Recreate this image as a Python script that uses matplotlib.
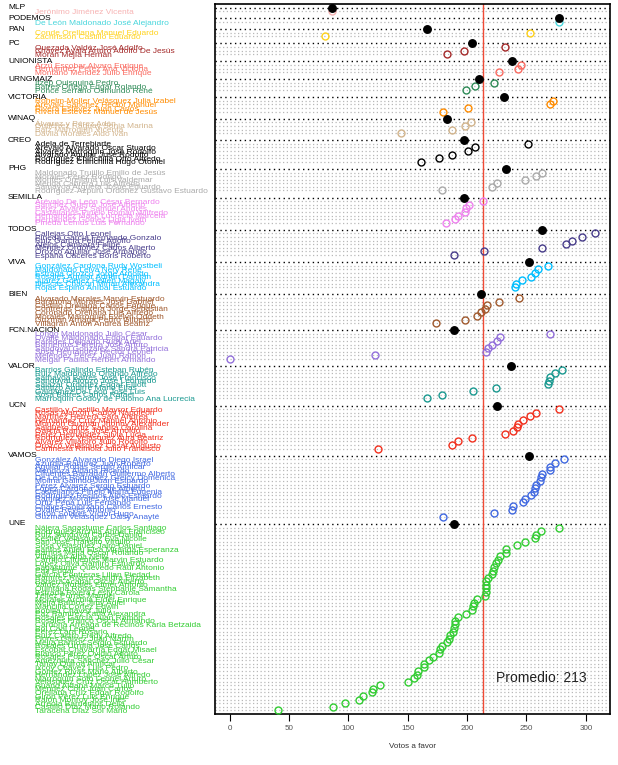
import matplotlib
matplotlib.use("Agg")
import matplotlib.pyplot as plt
from matplotlib.transforms import blended_transform_factory

plt.rcParams['font.family'] = ['Liberation Sans', 'DejaVu Sans']

# ---------------- data ----------------
parties = ["MLP", "PODEMOS", "PAN", "PC", "UNIONISTA", "URNGMAIZ", "VICTORIA", "WINAQ",
           "CREO", "PHG", "SEMILLA", "TODOS", "VIVA", "BIEN", "FCN.NACION", "VALOR",
           "UCN", "VAMOS", "UNE"]
party_means = [86, 277, 166, 204, 238, 210, 231, 183, 197, 233, 197, 263, 252, 212,
               189, 237, 225, 252, 189]
party_colors = ["#F7B3B3", "#48D6DC", "#FFD21A", "#A52A2A", "#FA6A60", "#2E8B57",
                "#FF8C00", "#D2B48C", "#000000", "#AAAAAA", "#EE82EE", "#483D8B",
                "#00BFFF", "#A0592D", "#9370DB", "#1A9990", "#F2301E", "#4169E1",
                "#32CD32"]

names_mlp = ["Jerónimo Jiménez Vicenta"]
votes_mlp = [86]
names_podemos = ["De León Maldonado José Alejandro"]
votes_podemos = [277]
names_pan = ["Conde Orellana Manuel Eduardo", "Zachrisson Castillo Eduardo"]
votes_pan = [253, 80]
names_pc = ["Quezada Valdéz José Adolfo", "Chávez Ayala Arturo Adolfo De Jesús",
            "Morán Mejía Hernán"]
votes_pc = [232, 197, 183]
names_unionista = ["Arzú Escobar Alvaro Enrique", "Hernández Pérez Ana Victoria",
                   "Montano Méndez Julio Enrique"]
votes_unionista = [245, 243, 227]
names_urng = ["Itzep Quisquiná Pedro", "Batres Ortega Edgar Rolando",
              "Ponce Serrano Osmundo René"]
votes_urng = [223, 207, 199]
names_victoria = ["Rohelm-Moller Velásquez Julia Izabel", "Arévalo Sánchez Héctor Manuel",
                  "Rivera Estévez Juan Carlos", "Rivera Estévez Manuel de Jesús"]
votes_victoria = [272, 270, 201, 180]
names_winaq = ["Álvarez y Pérez Adán", "Gutiérrez Raguay Sonia Marina",
               "Batz Marroquín Vicenta", "Dávila Morales Aldo Iván"]
votes_winaq = [203, 198, 187, 144]
names_creo = ["Adela de Terrebiarte", "Arévalo Alvarado Oscar Stuardo",
              "Álvarez Marroquín José Rodolfo", "Alvarado Aguilar José Rodolfo",
              "Rodríguez Chinchilla Otto Alfredo", "Rodríguez Chinchilla Hugo Otoniel"]
votes_creo = [251, 207, 201, 187, 176, 161]
names_phg = ["Maldonado Trujillo Emilio de Jesús", "Morales Pérez Rodrigo",
             "Montes Orellana Luis Valdemar", "Mérida Cabrera Luis Alfredo",
             "Samayoa Argueta Josué Eduardo", "Rodríguez-Azpuru Ordóñez Gustavo Estuardo"]
votes_phg = [263, 258, 249, 225, 221, 179]
names_semilla = ["Arévalo De León César Bernardo", "Sánchez Guerra José Alberto",
                 "Pérez Álvarez Samuel Andrés", "Castellanos Pinelo Román Wilfredo",
                 "Hernández Mack Lucrecia Marcela", "Hernández Gómez Ligia Iveth",
                 "Pineda Lemus Luis Fernando"]
votes_semilla = [213, 202, 199, 198, 192, 190, 182]
names_todos = ["Callejas Otto Leonel", "Pineda García Fernando Gonzalo",
               "Ruiz García Felipe Adolfo", "Alejos Cámbara Felipe",
               "Méndez Ordóñez Carlos Alberto", "Orozco Aguilar José Armando",
               "España Cáceres Boris Roberto"]
votes_todos = [308, 297, 288, 283, 263, 214, 189]
names_viva = ["González Cardona Rudy Wostbeli", "Maldonado Leiva Nery René",
              "Estrada Orozco Jorge Arnoldo", "Rosales Aguilar Adrián Damián",
              "Juárez Gómez Hellen Magaly", "Illescas Chacón Mirian Alexandra",
              "Rojas Espino Aníbal Estuardo"]
votes_viva = [268, 260, 257, 254, 246, 241, 240]
names_bien = ["Alvarado Morales Marvin Estuardo", "Barahona Morales José Gabriel",
              "Castillo Orellana Carlos Enrique", "Contreras Cabrera Jorge Sebastián",
              "Coronado Orellana Luis Alfredo", "Morales Marroquín Evelyn Oddeth",
              "Guzmán Arriaga Pedro Gilberto", "Villagrán Antón Andrea Beatriz"]
votes_bien = [244, 227, 217, 215, 212, 208, 198, 174]
names_fcn = ["Longo Maldonado Julio César", "Ovalle Maldonado Edgar Eduardo",
             "Paredes Delgado Rudy Ariel", "Barrientos Pereira José Arturo",
             "Sandoval González Sandra Patricia", "Sosa Hernández Héctor Leonel",
             "Meléndez Pérez Juan Ramón", "Melgar Padilla Herbert Armando"]
votes_fcn = [270, 228, 225, 221, 218, 216, 122, 0]
names_valor = ["Barrios Galindo Esteban Rubén", "Ruiz Maldonado Orlando Alfredo",
               "Samayoa Batres José Francisco", "Sandoval Alonzo José Leonardo",
               "Salazar Ordóñez Edgar Elliott", "Santizo Aguirre Mario Elías",
               "Galdámez De León José Luis", "Sosa Batres Carlos Rafael",
               "Marroquín Godoy de Palomo Ana Lucrecia"]
votes_valor = [280, 274, 270, 269, 268, 224, 205, 179, 166]
names_ucn = ["Castillo y Castillo Mayror Eduardo", "Rosas Alarcón Carlos Napoleón",
             "Martínez Herrera Sara Andrea", "Hernández Cruz Manuel Antonio",
             "Monzón Guzmán Jhonny Alexander", "Salguero Ortiz Sandra Carolina",
             "García Ramos José Arnoldo", "Pérez Hernández Silvia Lucía",
             "Rodríguez Velásquez Aura Beatriz", "Álvarez Villatoro Julio Rodolfo",
             "Orozco Velásquez César Augusto", "Carlinesta Rimola Julio Francisco"]
votes_ucn = [277, 258, 253, 247, 243, 242, 239, 232, 204, 192, 187, 125]
names_vamos = ["González Alvarado Diego Israel", "Azurdia Ramírez Juan Roberto",
               "Aguilar Rodas Sergio Amílcar", "Mendoza Aldana Ricardo",
               "Cifuentes Barragán Guillermo Alberto", "De León Rodríguez Greicy Domenica",
               "Molina Galindo Juan Estuardo", "Pérez Álvarez Sergio Estuardo",
               "López Cardona Jorge Alberto", "Castellanos Pinelo María Eugenia",
               "Rodríguez Recinos Aldo Estuardo", "Ramírez Morales José Manuel",
               "Ortiz Peña Luis Fernando", "Chávez Solórzano Carlos Ernesto",
               "Ovalle Reyes Antonio", "Girón Solares Víctor Hugo",
               "Guzmán Velásquez Daisy Anayté"]
votes_vamos = [282, 274, 270, 270, 263, 262, 261, 258, 257, 256, 254, 249, 247,
               239, 238, 223, 180]
names_une = ["Nájera Sagastume Carlos Santiago", "Rodríguez Archila Ángel Francisco",
             "Ruiz Sandoval Carlos Danilo", "Kestler Velásquez Eva Nicolle",
             "San José Tránsito Virgilio", "Sosa Velásquez Jairo Daniel",
             "Santos Anleu Elsa Miranda Esperanza", "Barrios Mejía Oscar Rolando",
             "Villagrán Alba Nelly", "Carrillo Cifuentes Marvin Estuardo",
             "López Oliva Ramiro Estuardo", "Sagastume Quevedo Raúl Antonio",
             "Paz Edgar", "García Contreras Lilian Piedad",
             "Ramírez Rivera Sandra Elizabeth", "Barrera Acabal Oscar Alberto",
             "Valdez Morales Elmer Antonio", "Quintana Rodas Stephanie Samantha",
             "Estrada Rivera Lesly Carola", "Téllez Porras Manuel",
             "Morales Archila Elder Enrique", "Mejía Barrios Jimy Adiel",
             "Mancilla Cortez Edwin", "Bonilla Chávez Julio",
             "Paz Ramírez Karla Alexandra", "Rosales García Juan Ramón",
             "Rosales Franco Oscar Armando", "Cardona Arreaga de Recinos Karla Betzaida",
             "Bol Caal Leonel", "Pérez Lara Rosario", "Ruiz Castro Fredy Alfredo",
             "Flores Gálvez Juan Martín", "Mejía Barrios Sergio Estuardo",
             "Rosales Urrutia José Carlos", "Escobar Chavarría Edgar Misael",
             "Blanco Pérez Ovidio Adolfo", "Rosales Ponce Oscar Arturo",
             "Amézquita Sánchez Julio César", "Tahay Quiroa Amílcar",
             "Ixcoy Chávez Luis Pedro", "Gómez Rivas Mario Alberto",
             "Hernández López José Alfredo", "Marroquín Soto Leonel Arturo",
             "Velásquez Cruz Oscar Humberto", "Ruano Aldana Marco Tulio",
             "Méndez Coto Juan Carlos", "Orellana Cruz Edgar Rodolfo",
             "Girón Pérez Luis Enrique", "Ralón Monroy José Inés",
             "Arreola Barrientos Delia", "Castillo Díaz Mario Rolando",
             "Taracena Díaz Sol Mario"]
votes_une = [277, 262, 258, 257, 249, 242, 233, 233, 228, 226, 224, 223, 222, 221,
             218, 216, 216, 216, 216, 215, 208, 206, 205, 204, 199, 192, 190, 190,
             189, 188, 186, 185, 183, 179, 177, 176, 171, 168, 164, 164, 159, 158,
             155, 150, 127, 121, 120, 112, 109, 97, 87, 41]

promedio = 213

party_names = [names_mlp, names_podemos, names_pan, names_pc, names_unionista, names_urng,
               names_victoria, names_winaq, names_creo, names_phg, names_semilla,
               names_todos, names_viva, names_bien, names_fcn, names_valor, names_ucn,
               names_vamos, names_une]
party_votes = [votes_mlp, votes_podemos, votes_pan, votes_pc, votes_unionista, votes_urng,
               votes_victoria, votes_winaq, votes_creo, votes_phg, votes_semilla,
               votes_todos, votes_viva, votes_bien, votes_fcn, votes_valor, votes_ucn,
               votes_vamos, votes_une]

# ---------------- figure ----------------
W, H = 618, 765
fig = plt.figure(figsize=(W / 100, H / 100), dpi=100)
ax = fig.add_axes([215 / W, 1 - 714 / H, (610 - 215) / W, (714 - 4) / H])

all_vals = [v for vs in party_votes for v in vs]
lo, hi = min(all_vals), max(all_vals)
pad = 0.04 * (hi - lo)
ax.set_xlim(lo - pad, hi + pad)

trans = blended_transform_factory(fig.transFigure, ax.transData)
name_fs = 6.0
group_fs = 6.0

y = 0
for names, votes, pname, pmean, col in reversed(list(zip(party_names, party_votes, parties,
                                                            party_means, party_colors))):
    n = len(votes)
    for i, (nm, v) in enumerate(zip(names, votes)):
        yy = y + n - i
        ax.axhline(yy, color="#B8B8B8", lw=0.9, linestyle=(0, (1, 2)), zorder=1)
        ax.plot([v], [yy], marker="o", ms=5.0, mfc="none", mec=col, mew=1.0,
                linestyle="none", zorder=3)
        ax.text(35 / W, yy - 0.3, nm, transform=trans, ha="left", va="center",
                fontsize=name_fs, color=col, clip_on=False)
    gy = y + n + 1
    ax.axhline(gy, color="black", lw=1.0, linestyle=(0, (1, 2.5)), zorder=2)
    ax.plot([pmean], [gy], marker="o", ms=5.4, color="black", linestyle="none", zorder=4)
    ax.text(8 / W, gy, pname, transform=trans, ha="left", va="center",
            fontsize=group_fs, color="black", clip_on=False)
    y += n + 2

ax.set_ylim(0, y)
ax.set_yticks([])

ax.axvline(promedio, color="#F04A35", lw=1.0, zorder=2)
ax.text(promedio + 11, 10, "Promedio: %d" % promedio, fontsize=10, ha="left",
        va="center", color="#222222")

ax.set_xticks([0, 50, 100, 150, 200, 250, 300])
ax.tick_params(axis="x", length=5, width=0.8, labelsize=5.8, labelcolor="#555555",
               pad=3)
ax.set_xlabel("Votos a favor", fontsize=5.8, color="#333333", labelpad=8)
for s in ax.spines.values():
    s.set_linewidth(1.2)

fig.savefig("out.png", dpi=100)
